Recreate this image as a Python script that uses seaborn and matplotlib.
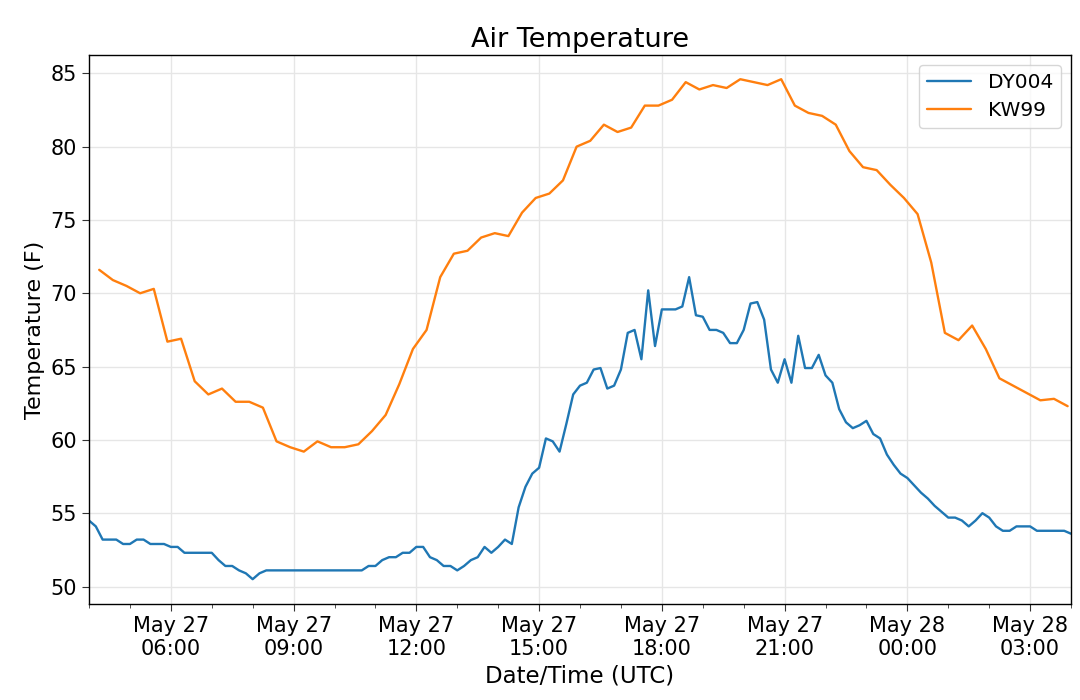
import matplotlib
matplotlib.use("Agg")
import matplotlib.pyplot as plt
import matplotlib.dates as mdates
import seaborn as sns
import pandas as pd

# ---- data ----
dy004_start = "2019-05-27 04:00"
dy004_freq = "10min"
dy004_temp = [
    54.5, 54.1, 53.2, 53.2, 53.2, 52.9, 52.9, 53.2, 53.2, 52.9,
    52.9, 52.9, 52.7, 52.7, 52.3, 52.3, 52.3, 52.3, 52.3, 51.8,
    51.4, 51.4, 51.1, 50.9, 50.5, 50.9, 51.1, 51.1, 51.1, 51.1,
    51.1, 51.1, 51.1, 51.1, 51.1, 51.1, 51.1, 51.1, 51.1, 51.1,
    51.1, 51.4, 51.4, 51.8, 52.0, 52.0, 52.3, 52.3, 52.7, 52.7,
    52.0, 51.8, 51.4, 51.4, 51.1, 51.4, 51.8, 52.0, 52.7, 52.3,
    52.7, 53.2, 52.9, 55.4, 56.8, 57.7, 58.1, 60.1, 59.9, 59.2,
    61.1, 63.1, 63.7, 63.9, 64.8, 64.9, 63.5, 63.7, 64.8, 67.3,
    67.5, 65.5, 70.2, 66.4, 68.9, 68.9, 68.9, 69.1, 71.1, 68.5,
    68.4, 67.5, 67.5, 67.3, 66.6, 66.6, 67.5, 69.3, 69.4, 68.2,
    64.8, 63.9, 65.5, 63.9, 67.1, 64.9, 64.9, 65.8, 64.4, 63.9,
    62.1, 61.2, 60.8, 61.0, 61.3, 60.4, 60.1, 59.0, 58.3, 57.7,
    57.4, 56.9, 56.4, 56.0, 55.5, 55.1, 54.7, 54.7, 54.5, 54.1,
    54.5, 55.0, 54.7, 54.1, 53.8, 53.8, 54.1, 54.1, 54.1, 53.8,
    53.8, 53.8, 53.8, 53.8, 53.6,
]

kw99_start = "2019-05-27 04:15"
kw99_freq = "20min"
kw99_temp = [
    71.6, 70.9, 70.5, 70.0, 70.3, 66.7, 66.9, 64.0, 63.1, 63.5,
    62.6, 62.6, 62.2, 59.9, 59.5, 59.2, 59.9, 59.5, 59.5, 59.7,
    60.6, 61.7, 63.8, 66.2, 67.5, 71.1, 72.7, 72.9, 73.8, 74.1,
    73.9, 75.5, 76.5, 76.8, 77.7, 80.0, 80.4, 81.5, 81.0, 81.3,
    82.8, 82.8, 83.2, 84.4, 83.9, 84.2, 84.0, 84.6, 84.4, 84.2,
    84.6, 82.8, 82.3, 82.1, 81.5, 79.7, 78.6, 78.4, 77.4, 76.5,
    75.4, 72.1, 67.3, 66.8, 67.8, 66.2, 64.2, 63.7, 63.2, 62.7,
    62.8, 62.3,
]

stations = ["DY004", "KW99"]
colors = ["#1f77b4", "#ff7f0e"]
x_range = ["2019-05-27 04:00", "2019-05-28 04:00"]
y_range = [48.8, 86.25]

df = pd.concat([
    pd.DataFrame({"time": pd.date_range(dy004_start, periods=len(dy004_temp), freq=dy004_freq),
                  "temp": dy004_temp, "station": stations[0]}),
    pd.DataFrame({"time": pd.date_range(kw99_start, periods=len(kw99_temp), freq=kw99_freq),
                  "temp": kw99_temp, "station": stations[1]}),
], ignore_index=True)

# ---- plot ----
sns.set_style("ticks")
plt.rcParams["font.family"] = ["DejaVu Sans"]
plt.rcParams["text.color"] = "black"
plt.rcParams["axes.labelcolor"] = "black"
plt.rcParams["xtick.color"] = "black"
plt.rcParams["ytick.color"] = "black"

fig = plt.figure(figsize=(10.8, 7.0), dpi=100)
ax = fig.add_axes([0.0824, 0.137, 0.9093, 0.7844])

sns.lineplot(data=df, x="time", y="temp", hue="station", hue_order=stations,
             palette=colors, linewidth=1.7, ax=ax)

ax.set_xlim(pd.Timestamp(x_range[0]), pd.Timestamp(x_range[1]))
ax.set_ylim(*y_range)

ax.xaxis.set_major_locator(mdates.HourLocator(byhour=range(0, 24, 3)))
ax.xaxis.set_minor_locator(mdates.HourLocator())
ax.xaxis.set_major_formatter(mdates.DateFormatter("%b %d\n%H:%M"))
ax.set_yticks([50, 55, 60, 65, 70, 75, 80, 85])

ax.grid(True, which="major", color="#e6e6e6", linewidth=1.0)
ax.set_axisbelow(True)
for s in ax.spines.values():
    s.set_visible(True)
    s.set_color("black")
    s.set_linewidth(1.0)

ax.tick_params(axis="both", which="major", labelsize=15, length=5, direction="out",
               color="#333333", labelcolor="black")
ax.tick_params(axis="x", which="minor", length=3, color="#333333")

ax.set_title("Air Temperature", fontsize=19.5, color="black")
ax.set_xlabel("Date/Time (UTC)", fontsize=16.5, color="black")
ax.set_ylabel("Temperature (F)", fontsize=16, color="black")

handles, labels = ax.get_legend_handles_labels()
leg = ax.legend(handles, labels, loc="upper right", fontsize=14.5, frameon=True,
                fancybox=True, framealpha=0.8, edgecolor="#cccccc", handlelength=2.2,
                labelspacing=0.45)
for t in leg.get_texts():
    t.set_color("black")

fig.savefig("out.png", dpi=100)
